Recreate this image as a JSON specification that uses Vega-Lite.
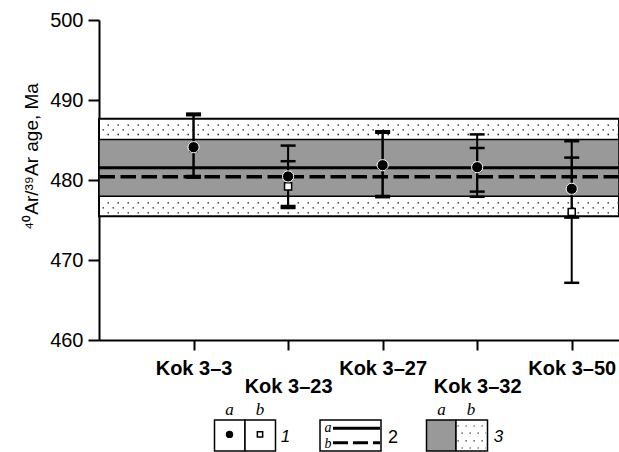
{
  "$schema": "https://vega.github.io/schema/vega-lite/v6.json",
  "padding": {"left": 22, "top": 10, "right": 0, "bottom": 0},
  "bounds": "flush",
  "spacing": 60,
  "config": {"view": {"stroke": null}, "font": "Liberation Sans"},
  "datasets": {
    "ages": [
      {"sample": "Kok 3–3", "pos": 1, "type": "a", "age": 484.1, "lo": 480.5, "hi": 488.3},
      {"sample": "Kok 3–3", "pos": 1, "type": "b", "age": 484.0, "lo": 480.3, "hi": 488.1},
      {"sample": "Kok 3–23", "pos": 2, "type": "a", "age": 480.45, "lo": 476.75, "hi": 484.3},
      {"sample": "Kok 3–23", "pos": 2, "type": "b", "age": 479.2, "lo": 476.5, "hi": 482.35},
      {"sample": "Kok 3–27", "pos": 3, "type": "a", "age": 481.85, "lo": 478.0, "hi": 486.1},
      {"sample": "Kok 3–27", "pos": 3, "type": "b", "age": 481.8, "lo": 477.85, "hi": 485.9},
      {"sample": "Kok 3–32", "pos": 4, "type": "a", "age": 481.6, "lo": 477.9, "hi": 485.7},
      {"sample": "Kok 3–32", "pos": 4, "type": "b", "age": 481.5, "lo": 478.55, "hi": 484.0},
      {"sample": "Kok 3–50", "pos": 5, "type": "a", "age": 478.9, "lo": 475.3, "hi": 484.85},
      {"sample": "Kok 3–50", "pos": 5, "type": "b", "age": 476.0, "lo": 467.15, "hi": 482.8}
    ],
    "bands": [
      {"kind": "outer", "lo": 475.48, "hi": 487.65},
      {"kind": "inner", "lo": 477.98, "hi": 485.06}
    ],
    "means": [
      {"kind": "a", "age": 481.53},
      {"kind": "b", "age": 480.4}
    ],
    "dots": [
      {"age": 486.87, "row": 0},
      {"age": 486.27, "row": 1},
      {"age": 485.69, "row": 0},
      {"age": 477.15, "row": 0},
      {"age": 476.52, "row": 1},
      {"age": 475.9, "row": 0}
    ],
    "legendBoxes": [
      {"x1": 23.1, "x2": 29.2, "y1": 5, "y2": 12.75, "f": "white"},
      {"x1": 29.2, "x2": 35.3, "y1": 5, "y2": 12.75, "f": "white"},
      {"x1": 44.2, "x2": 56.4, "y1": 5, "y2": 12.75, "f": "white"},
      {"x1": 65.5, "x2": 71.4, "y1": 5, "y2": 12.75, "f": "#999999"},
      {"x1": 71.4, "x2": 77.7, "y1": 5, "y2": 12.75, "f": "white"}
    ],
    "legendDots": [
      {"x1": 71.7, "x2": 77.4, "y": 6.5, "row": 0},
      {"x1": 71.7, "x2": 77.4, "y": 8.3, "row": 1},
      {"x1": 71.7, "x2": 77.4, "y": 10.2, "row": 0},
      {"x1": 71.7, "x2": 77.4, "y": 12.0, "row": 1}
    ],
    "legendLines": [
      {"x1": 46.8, "x2": 56.2, "y": 7.08, "kind": "a"},
      {"x1": 46.8, "x2": 56.2, "y": 10.68, "kind": "b"}
    ],
    "legendSymbols": [
      {"x": 26.1, "y": 8.6, "type": "a"},
      {"x": 32.2, "y": 8.6, "type": "b"}
    ],
    "legendText": [
      {"x": 26.1, "y": 3.75, "t": "a", "g": "letter"},
      {"x": 32.2, "y": 3.75, "t": "b", "g": "letter"},
      {"x": 68.5, "y": 3.75, "t": "a", "g": "letter"},
      {"x": 74.4, "y": 3.75, "t": "b", "g": "letter"},
      {"x": 45.8, "y": 8.0, "t": "a", "g": "small"},
      {"x": 45.8, "y": 12.0, "t": "b", "g": "small"},
      {"x": 37.3, "y": 10.4, "t": "1", "g": "numItalic"},
      {"x": 58.8, "y": 10.8, "t": "2", "g": "num"},
      {"x": 79.9, "y": 10.4, "t": "3", "g": "numItalic"}
    ]
  },
  "vconcat": [
    {
      "width": 520,
      "height": 320,
      "layer": [
        {
          "data": {"name": "bands"},
          "transform": [{"filter": "datum.kind === 'outer'"}],
          "mark": {"type": "rect", "fill": "white", "stroke": "black", "strokeWidth": 2},
          "encoding": {
            "x": {
              "datum": 0, "type": "quantitative",
              "scale": {"domain": [0, 5.5], "nice": false, "zero": false},
              "axis": {
                "values": [1, 2, 3, 4, 5],
                "labelExpr": "['', 'Kok 3–3', 'Kok 3–23', 'Kok 3–27', 'Kok 3–32', 'Kok 3–50'][datum.value]",
                "title": null,
                "grid": false,
                "labelFont": "Liberation Sans",
                "labelFontSize": 20,
                "labelFontWeight": "bold",
                "labelColor": "black",
                "labelPadding": {"condition": {"test": "datum.value % 2 === 0", "value": 26}, "value": 8},
                "labelOverlap": false,
                "labelFlush": false,
                "tickSize": 10,
                "tickWidth": 2,
                "tickColor": "black",
                "domainColor": "black",
                "domainWidth": 2
              }
            },
            "x2": {"datum": 5.5},
            "y": {
              "field": "lo", "type": "quantitative",
              "scale": {"domain": [460, 500], "nice": false, "zero": false},
              "axis": {
                "values": [460, 465, 470, 475, 480, 485, 490, 495, 500],
                "labelExpr": "datum.value % 10 === 0 ? datum.label : ''",
                "grid": false,
                "title": "⁴⁰Ar/³⁹Ar age, Ma",
                "titleFont": "Liberation Sans",
                "titleFontSize": 19,
                "titleFontWeight": "normal",
                "titleColor": "black",
                "titleAngle": 270,
                "titleAlign": "center",
                "titleBaseline": "alphabetic",
                "titleX": -62,
                "titleY": 136,
                "labelFont": "Liberation Sans",
                "labelFontSize": 20,
                "labelColor": "black",
                "labelPadding": 5,
                "tickSize": 11,
                "tickWidth": 2,
                "tickColor": "black",
                "domainColor": "black",
                "domainWidth": 2
              }
            },
            "y2": {"field": "hi"}
          }
        },
        {
          "data": {"name": "dots"},
          "transform": [{"filter": "datum.row === 0"}],
          "mark": {"type": "rule", "color": "#222222", "strokeWidth": 1.3, "strokeDash": [1.5, 8.5]},
          "encoding": {"y": {"field": "age", "type": "quantitative"}}
        },
        {
          "data": {"name": "dots"},
          "transform": [{"filter": "datum.row === 1"}],
          "mark": {"type": "rule", "color": "#222222", "strokeWidth": 1.3, "strokeDash": [1.5, 8.5], "strokeDashOffset": 5},
          "encoding": {"y": {"field": "age", "type": "quantitative"}}
        },
        {
          "data": {"name": "bands"},
          "transform": [{"filter": "datum.kind === 'inner'"}],
          "mark": {"type": "rect", "fill": "#999999", "stroke": "black", "strokeWidth": 1.5},
          "encoding": {
            "x": {"datum": 0, "type": "quantitative"},
            "x2": {"datum": 5.5},
            "y": {"field": "lo", "type": "quantitative"},
            "y2": {"field": "hi"}
          }
        },
        {
          "data": {"name": "means"},
          "transform": [{"filter": "datum.kind === 'a'"}],
          "mark": {"type": "rule", "color": "black", "strokeWidth": 3.2},
          "encoding": {"y": {"field": "age", "type": "quantitative"}}
        },
        {
          "data": {"name": "means"},
          "transform": [{"filter": "datum.kind === 'b'"}],
          "mark": {"type": "rule", "color": "black", "strokeWidth": 3.5, "strokeDash": [15.5, 5.5]},
          "encoding": {"y": {"field": "age", "type": "quantitative"}}
        },
        {
          "data": {"name": "ages"},
          "mark": {"type": "rule", "color": "black", "strokeWidth": 2},
          "encoding": {
            "x": {"field": "pos", "type": "quantitative"},
            "y": {"field": "lo", "type": "quantitative"},
            "y2": {"field": "hi"}
          }
        },
        {
          "data": {"name": "ages"},
          "mark": {"type": "tick", "orient": "horizontal", "size": 15, "thickness": 2.5, "color": "black", "opacity": 1},
          "encoding": {
            "x": {"field": "pos", "type": "quantitative"},
            "y": {"field": "lo", "type": "quantitative"}
          }
        },
        {
          "data": {"name": "ages"},
          "mark": {"type": "tick", "orient": "horizontal", "size": 15, "thickness": 2.5, "color": "black", "opacity": 1},
          "encoding": {
            "x": {"field": "pos", "type": "quantitative"},
            "y": {"field": "hi", "type": "quantitative"}
          }
        },
        {
          "data": {"name": "ages"},
          "transform": [{"filter": "datum.type === 'b'"}],
          "mark": {"type": "point", "shape": "square", "filled": true, "fill": "white", "stroke": "black", "strokeWidth": 1.5, "size": 50, "opacity": 1},
          "encoding": {
            "x": {"field": "pos", "type": "quantitative"},
            "y": {"field": "age", "type": "quantitative"}
          }
        },
        {
          "data": {"name": "ages"},
          "transform": [{"filter": "datum.type === 'a'"}],
          "mark": {"type": "point", "shape": "circle", "filled": true, "fill": "black", "stroke": "white", "strokeWidth": 1, "size": 125, "opacity": 1},
          "encoding": {
            "x": {"field": "pos", "type": "quantitative"},
            "y": {"field": "age", "type": "quantitative"}
          }
        }
      ]
    },
    {
      "width": 520,
      "height": 52,
      "layer": [
        {
          "data": {"name": "legendBoxes"},
          "mark": {"type": "rect", "stroke": "black", "strokeWidth": 1.5},
          "encoding": {
            "x": {"field": "x1", "type": "quantitative", "scale": {"domain": [0, 104], "nice": false, "zero": false}, "axis": null},
            "x2": {"field": "x2"},
            "y": {"field": "y1", "type": "quantitative", "scale": {"domain": [0, 13], "nice": false, "zero": false, "reverse": true}, "axis": null},
            "y2": {"field": "y2"},
            "fill": {"field": "f", "type": "nominal", "scale": null, "legend": null}
          }
        },
        {
          "data": {"name": "legendDots"},
          "transform": [{"filter": "datum.row === 0"}],
          "mark": {"type": "rule", "color": "#222222", "strokeWidth": 1.2, "strokeDash": [1.3, 6.7]},
          "encoding": {
            "x": {"field": "x1", "type": "quantitative", "axis": null},
            "x2": {"field": "x2"},
            "y": {"field": "y", "type": "quantitative", "axis": null}
          }
        },
        {
          "data": {"name": "legendDots"},
          "transform": [{"filter": "datum.row === 1"}],
          "mark": {"type": "rule", "color": "#222222", "strokeWidth": 1.2, "strokeDash": [1.3, 6.7], "strokeDashOffset": 4},
          "encoding": {
            "x": {"field": "x1", "type": "quantitative", "axis": null},
            "x2": {"field": "x2"},
            "y": {"field": "y", "type": "quantitative", "axis": null}
          }
        },
        {
          "data": {"name": "legendLines"},
          "transform": [{"filter": "datum.kind === 'a'"}],
          "mark": {"type": "rule", "color": "black", "strokeWidth": 3},
          "encoding": {
            "x": {"field": "x1", "type": "quantitative", "axis": null},
            "x2": {"field": "x2"},
            "y": {"field": "y", "type": "quantitative", "axis": null}
          }
        },
        {
          "data": {"name": "legendLines"},
          "transform": [{"filter": "datum.kind === 'b'"}],
          "mark": {"type": "rule", "color": "black", "strokeWidth": 3, "strokeDash": [15, 5]},
          "encoding": {
            "x": {"field": "x1", "type": "quantitative", "axis": null},
            "x2": {"field": "x2"},
            "y": {"field": "y", "type": "quantitative", "axis": null}
          }
        },
        {
          "data": {"name": "legendSymbols"},
          "transform": [{"filter": "datum.type === 'a'"}],
          "mark": {"type": "point", "shape": "circle", "filled": true, "fill": "black", "size": 55, "opacity": 1},
          "encoding": {
            "x": {"field": "x", "type": "quantitative", "axis": null},
            "y": {"field": "y", "type": "quantitative", "axis": null}
          }
        },
        {
          "data": {"name": "legendSymbols"},
          "transform": [{"filter": "datum.type === 'b'"}],
          "mark": {"type": "point", "shape": "square", "filled": true, "fill": "white", "stroke": "black", "strokeWidth": 1.5, "size": 28, "opacity": 1},
          "encoding": {
            "x": {"field": "x", "type": "quantitative", "axis": null},
            "y": {"field": "y", "type": "quantitative", "axis": null}
          }
        },
        {
          "data": {"name": "legendText"},
          "transform": [{"filter": "datum.g === 'letter'"}],
          "mark": {"type": "text", "font": "Liberation Serif", "fontStyle": "italic", "fontSize": 17, "color": "black", "align": "center", "baseline": "alphabetic"},
          "encoding": {
            "x": {"field": "x", "type": "quantitative", "axis": null},
            "y": {"field": "y", "type": "quantitative", "axis": null},
            "text": {"field": "t"}
          }
        },
        {
          "data": {"name": "legendText"},
          "transform": [{"filter": "datum.g === 'small'"}],
          "mark": {"type": "text", "font": "Liberation Serif", "fontStyle": "italic", "fontSize": 14, "color": "black", "align": "center", "baseline": "alphabetic"},
          "encoding": {
            "x": {"field": "x", "type": "quantitative", "axis": null},
            "y": {"field": "y", "type": "quantitative", "axis": null},
            "text": {"field": "t"}
          }
        },
        {
          "data": {"name": "legendText"},
          "transform": [{"filter": "datum.g === 'numItalic'"}],
          "mark": {"type": "text", "font": "Liberation Sans", "fontStyle": "italic", "fontSize": 17, "color": "black", "align": "center", "baseline": "alphabetic"},
          "encoding": {
            "x": {"field": "x", "type": "quantitative", "axis": null},
            "y": {"field": "y", "type": "quantitative", "axis": null},
            "text": {"field": "t"}
          }
        },
        {
          "data": {"name": "legendText"},
          "transform": [{"filter": "datum.g === 'num'"}],
          "mark": {"type": "text", "font": "Liberation Sans", "fontSize": 18, "color": "black", "align": "center", "baseline": "alphabetic"},
          "encoding": {
            "x": {"field": "x", "type": "quantitative", "axis": null},
            "y": {"field": "y", "type": "quantitative", "axis": null},
            "text": {"field": "t"}
          }
        }
      ]
    }
  ]
}
